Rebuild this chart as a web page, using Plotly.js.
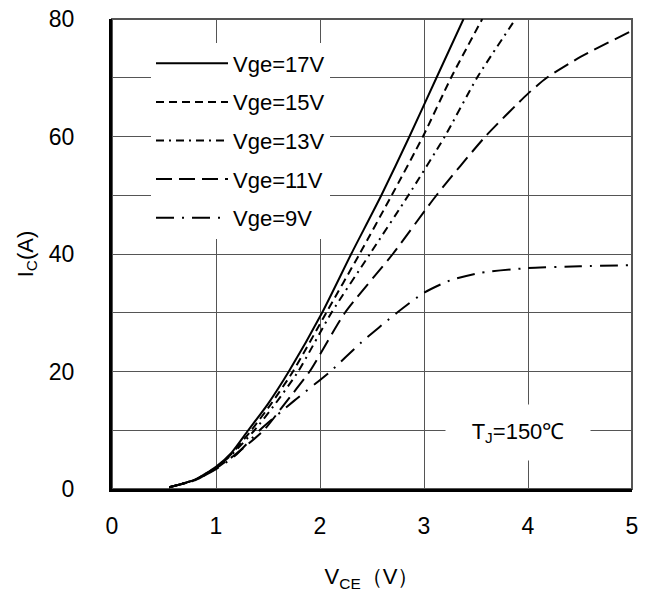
<!DOCTYPE html>
<html>
<head>
<meta charset="utf-8">
<script src="https://cdn.plot.ly/plotly-3.0.1.min.js"></script>
<style>html,body{margin:0;padding:0;background:#fff;}#chart{width:649px;height:607px;}</style>
</head>
<body>
<div id="chart"></div>
<script>
// Data
const seriesNames = ['Vge=17V', 'Vge=15V', 'Vge=13V', 'Vge=11V', 'Vge=9V'];
const v17_x = [0.55, 0.8, 1.0, 1.15, 1.31, 1.5, 1.70, 2.02, 2.30, 2.59, 2.86, 3.12, 3.38];
const v17_y = [0.3, 1.6, 3.8, 6.2, 10, 14.5, 20, 30, 40, 50, 60, 70, 80];
const v15_x = [0.55, 0.8, 1.0, 1.15, 1.34, 1.53, 1.74, 2.06, 2.38, 2.69, 2.99, 3.26, 3.56];
const v15_y = [0.3, 1.6, 3.7, 6.0, 10, 14.5, 20, 30, 40, 50, 60, 70, 80];
const v13_x = [0.55, 0.8, 1.0, 1.16, 1.37, 1.57, 1.79, 2.11, 2.48, 2.85, 3.20, 3.51, 3.88];
const v13_y = [0.3, 1.6, 3.6, 6.0, 10, 14.5, 20, 30, 40, 50, 60, 70, 80];
const v11_x = [0.55, 0.8, 1.0, 1.18, 1.46, 1.66, 1.90, 2.24, 2.70, 3.12, 3.59, 4.0, 4.18, 4.5, 5.0];
const v11_y = [0.3, 1.5, 3.5, 5.8, 10, 14.5, 20, 30, 40, 50, 60, 67.3, 70, 73.5, 78];
const v9_x = [0.55, 0.8, 1.0, 1.18, 1.42, 1.75, 2.10, 2.40, 2.74, 3.0, 3.25, 3.54, 4.0, 4.5, 5.0];
const v9_y = [0.3, 1.5, 3.4, 5.6, 10, 15, 20, 25, 30, 33.4, 35.5, 36.8, 37.6, 37.9, 38.1];
const xTickVals = [0, 1, 2, 3, 4, 5];
const yTickVals = [0, 20, 40, 60, 80];

const xs = [v17_x, v15_x, v13_x, v11_x, v9_x];
const ys = [v17_y, v15_y, v13_y, v11_y, v9_y];
const dashes = ['solid', '8px,5px', '8px,5px,2px,5px', '16px,7px', '18px,8px,2px,8px'];

const traces = seriesNames.map((n, i) => ({
  x: xs[i], y: ys[i], name: n, type: 'scatter', mode: 'lines',
  legendgroup: 'g' + i,
  line: {color: '#000', width: 2, dash: dashes[i], shape: 'spline', smoothing: 0.6},
  hoverinfo: 'skip'
}));

const font = {family: 'Arial, "Liberation Sans", sans-serif', size: 22, color: '#000'};
const tickFont = {family: 'Arial, "Liberation Sans", sans-serif', size: 23, color: '#000'};

const layout = {
  width: 649, height: 607,
  margin: {l: 112, r: 17, t: 19, b: 118},
  paper_bgcolor: '#fff', plot_bgcolor: '#fff',
  font: font,
  showlegend: true,
  legend: {
    x: 0.075, y: 0.95, xanchor: 'left', yanchor: 'top',
    bgcolor: '#fff', borderwidth: 0, font: font,
    itemwidth: 72, traceorder: 'grouped', tracegroupgap: 7
  },
  xaxis: {
    range: [0, 5], tickvals: xTickVals, ticks: '', showgrid: true,
    gridcolor: '#555', gridwidth: 1, zeroline: false,
    showline: true, linecolor: '#000', linewidth: 3,
    ticklabelstandoff: 14, tickfont: tickFont,
    title: {text: 'V<sub>CE</sub>（V）', font: font, standoff: 32}
  },
  yaxis: {
    range: [0, 80], tickvals: yTickVals, ticks: '', showgrid: true,
    gridcolor: '#555', gridwidth: 1, zeroline: false,
    showline: true, linecolor: '#000', linewidth: 3,
    ticklabelstandoff: 30, tickfont: tickFont,
    minor: {dtick: 10, showgrid: true, gridcolor: '#555', gridwidth: 1},
    title: {text: 'I<sub>C</sub>(A)', font: font, standoff: 10}
  },
  shapes: [
    {type: 'rect', xref: 'paper', yref: 'paper', x0: 0, x1: 1, y0: 0, y1: 1,
     line: {color: '#555', width: 2}, layer: 'below'}
  ],
  annotations: [
    {xref: 'x', yref: 'y', x: 3.9, y: 9.6, text: 'T<sub>J</sub>=150℃', showarrow: false,
     font: font, bgcolor: '#fff', borderpad: 7, width: 130, height: 41,
     xanchor: 'center', yanchor: 'middle'}
  ]
};

Plotly.newPlot('chart', traces, layout, {staticPlot: true, displayModeBar: false});
</script>
</body>
</html>
